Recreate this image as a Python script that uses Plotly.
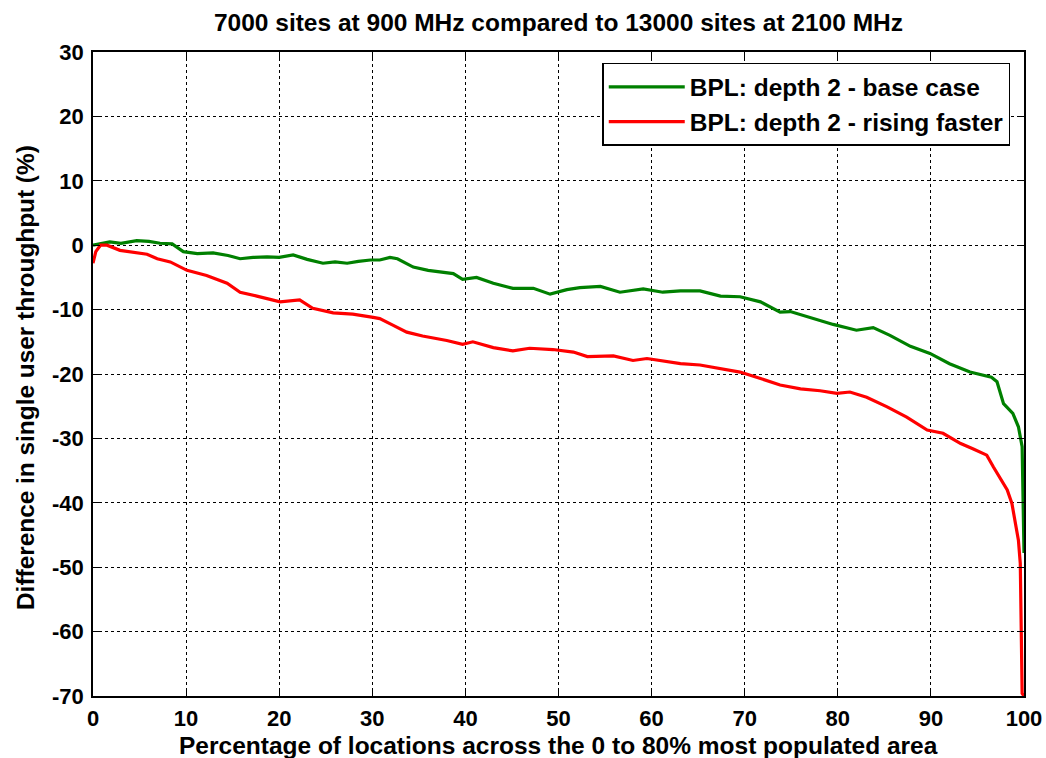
import plotly.graph_objects as go

# Percentage of locations (x) and difference in throughput (y)
base_x = [0, 0.8, 1.8, 3.0, 4.7, 6.0, 7.2, 8.5, 9.7, 11.2, 12.9, 14.5, 15.8, 17.2, 18.7, 20.0, 21.5, 23.0,
          24.7, 26.0, 27.3, 28.5, 29.8, 30.8, 31.9, 32.7, 34.4, 36.0, 37.3, 38.7, 39.7, 41.2, 43.0, 45.1,
          47.3, 49.1, 50.9, 52.3, 54.5, 56.6, 59.1, 61.2, 63.1, 65.2, 67.4, 69.5, 71.7, 73.8, 74.9, 77.3,
          79.5, 82.0, 83.8, 85.6, 87.8, 89.9, 92.0, 94.2, 95.6, 96.5, 97.1, 97.8, 98.8, 99.4, 99.8, 100.0]
base_y = [0.0, 0.2, 0.5, 0.3, 0.7, 0.6, 0.3, 0.2, -1.0, -1.3, -1.2, -1.6, -2.1, -1.9, -1.8, -1.9, -1.5, -2.2,
          -2.8, -2.6, -2.8, -2.5, -2.3, -2.3, -1.9, -2.1, -3.4, -3.9, -4.2, -4.4, -5.3, -5.0, -5.9, -6.7,
          -6.7, -7.6, -6.9, -6.6, -6.4, -7.3, -6.8, -7.3, -7.1, -7.1, -7.9, -8.0, -8.8, -10.4, -10.3, -11.4,
          -12.3, -13.2, -12.8, -14.0, -15.7, -16.8, -18.4, -19.7, -20.2, -20.5, -21.2, -24.6, -26.1, -28.2, -31.3, -47.8]

rising_x = [0, 0.3, 0.8, 1.5, 2.9, 4.3, 5.8, 6.9, 8.3, 10.1, 12.2, 14.4, 15.8, 17.6, 20.1, 22.2, 23.6, 25.8,
            27.9, 30.1, 30.8, 32.2, 33.7, 35.4, 38.0, 39.7, 40.8, 43.0, 45.1, 46.9, 49.4, 51.6, 53.1, 55.9,
            58.0, 59.5, 61.6, 63.1, 65.2, 67.4, 69.5, 71.7, 73.8, 76.0, 78.1, 79.9, 81.3, 83.1, 85.3, 87.4,
            89.6, 91.3, 93.2, 94.5, 96.0, 96.7, 97.1, 98.2, 98.7, 99.0, 99.4, 99.6, 99.8, 100.0]
rising_y = [-2.8, -1.0, 0.0, 0.0, -0.8, -1.1, -1.4, -2.1, -2.6, -3.9, -4.7, -5.9, -7.3, -7.9, -8.8, -8.5, -9.8, -10.5,
            -10.7, -11.2, -11.4, -12.4, -13.5, -14.1, -14.8, -15.4, -15.0, -15.9, -16.4, -16.0, -16.2, -16.6, -17.3, -17.2,
            -17.9, -17.6, -18.1, -18.4, -18.6, -19.1, -19.7, -20.7, -21.7, -22.3, -22.6, -23.0, -22.8, -23.6, -25.1, -26.7,
            -28.7, -29.2, -30.8, -31.6, -32.6, -34.4, -35.4, -38.0, -40.1, -42.7, -45.8, -49.4, -69.6, -70.0]

series_names = ["BPL: depth 2 - base case", "BPL: depth 2 - rising faster"]
x_ticks = [0, 10, 20, 30, 40, 50, 60, 70, 80, 90, 100]
y_ticks = [30, 20, 10, 0, -10, -20, -30, -40, -50, -60, -70]
title_text = "7000 sites at 900 MHz compared to 13000 sites at 2100 MHz"
x_title = "Percentage of locations across the 0 to 80% most populated area"
y_title = "Difference in single user throughput (%)"

FONT = "Arial, Liberation Sans, Helvetica, sans-serif"

fig = go.Figure()
fig.add_trace(go.Scatter(x=base_x, y=base_y, mode="lines", name=series_names[0],
                         line=dict(color="#008000", width=3.2)))
fig.add_trace(go.Scatter(x=rising_x, y=rising_y, mode="lines", name=series_names[1],
                         line=dict(color="#FF0000", width=3.2)))

axis_common = dict(
    showgrid=True, gridcolor="black", gridwidth=1, griddash="dot",
    showline=True, linecolor="black", linewidth=1.5, mirror="ticks",
    ticks="inside", ticklen=7, tickcolor="black", tickwidth=1,
    zeroline=False, automargin=False, ticklabeloverflow="allow",
    tickfont=dict(family=FONT, size=22, color="black", weight="bold"),
)

fig.update_xaxes(range=[0, 100], tickvals=x_ticks, ticktext=[str(v) for v in x_ticks],
                 ticklabelstandoff=2, **axis_common)
fig.update_yaxes(range=[-70, 30], tickvals=y_ticks, ticktext=[str(v) for v in y_ticks],
                 ticklabelstandoff=3, **axis_common)

fig.add_annotation(text="<b>" + x_title + "</b>", xref="paper", yref="paper", x=0.5, y=0,
                   xanchor="center", yanchor="middle", yshift=-49, showarrow=False,
                   font=dict(family=FONT, size=24.5, color="black"))
fig.add_annotation(text="<b>" + y_title + "</b>", xref="paper", yref="paper", x=0, y=0.5,
                   xanchor="center", yanchor="middle", xshift=-68, yshift=-4, textangle=-90,
                   showarrow=False, font=dict(family=FONT, size=24.4, color="black"))

fig.update_layout(
    width=1046, height=758,
    margin=dict(l=93, r=22, t=52, b=62),
    paper_bgcolor="white", plot_bgcolor="white",
    title=dict(text="<b>" + title_text + "</b>",
               x=0.5, xref="paper", xanchor="center", y=0.971, yanchor="middle",
               font=dict(family=FONT, size=24.5, color="black")),
    showlegend=True,
    legend=dict(x=0.547, y=0.983, xanchor="left", yanchor="top",
                bgcolor="white", bordercolor="black", borderwidth=1.5,
                font=dict(family=FONT, size=24.5, color="black", weight="bold"),
                itemwidth=76, tracegroupgap=0),
)

fig.write_html("out.html", config={"displayModeBar": False},
               post_script="document.body.style.margin='0';")
